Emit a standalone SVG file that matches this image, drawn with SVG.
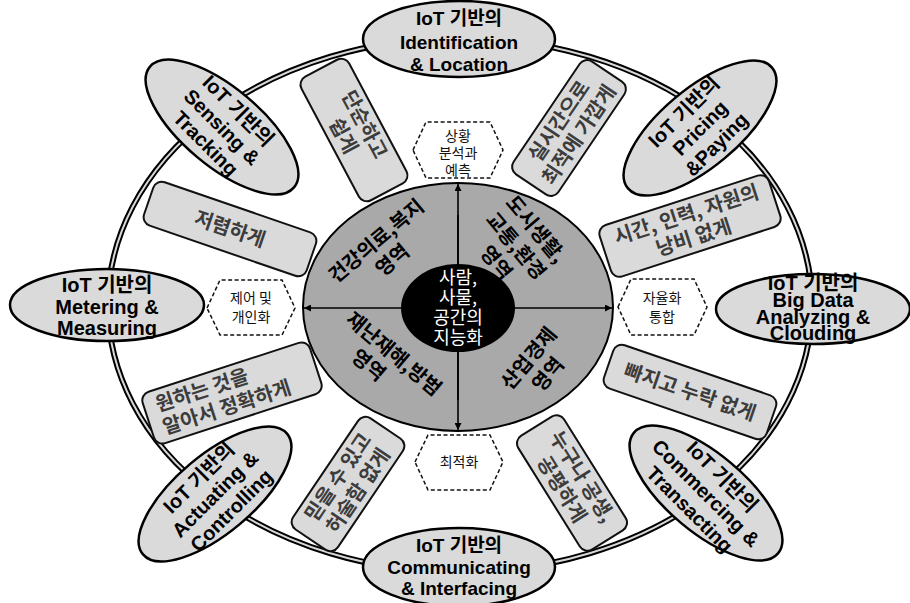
<svg xmlns="http://www.w3.org/2000/svg" width="910" height="603" viewBox="0 0 910 603">
<defs>
<style>
.ring1{fill:none;stroke:#000;stroke-width:6}
.ring2{fill:none;stroke:#d8d8d8;stroke-width:2}
.iot{fill:#dadada;stroke:#000;stroke-width:2.5}
.iott{font-family:"Liberation Sans","Noto Sans CJK KR",sans-serif;font-weight:bold;font-size:20px;fill:#000;text-anchor:middle}
.box{fill:#dadada;stroke:#111;stroke-width:2}
.boxt{font-family:"Noto Sans CJK KR",sans-serif;font-weight:bold;font-size:20px;fill:#3c3c3c;text-anchor:middle}
.hex{fill:#fff;stroke:#111;stroke-width:1.5;stroke-dasharray:4 2.5}
.hext{font-family:"Noto Sans CJK KR",sans-serif;font-size:14px;fill:#111;text-anchor:middle}
.quad{font-family:"Noto Sans CJK KR",sans-serif;font-weight:bold;font-size:20px;fill:#000;text-anchor:middle}
.ctr{font-family:"Noto Sans CJK KR",sans-serif;font-size:18px;fill:#fff;text-anchor:middle}
.ax{stroke:#000;stroke-width:1.6;fill:none}
</style>
<marker id="ah" viewBox="0 0 10 10" refX="10" refY="5" markerWidth="7" markerHeight="7" orient="auto-start-reverse" markerUnits="userSpaceOnUse">
<path d="M0,0 L10,5 L0,10 z" fill="#000"/>
</marker>
</defs>
<rect width="910" height="603" fill="#fff"/>

<g id="outer-ring">
<ellipse class="ring1" cx="460" cy="305" rx="352" ry="267"/>
<ellipse class="ring2" cx="460" cy="305" rx="352" ry="267"/>
</g>

<g id="core-area">
<ellipse cx="458" cy="307" rx="155" ry="124" fill="#a9a9a9" stroke="#000" stroke-width="2"/>
</g>

<g id="connectors">
<line class="ax" x1="458" y1="400" x2="458" y2="184" marker-end="url(#ah)"/>
<line class="ax" x1="458" y1="215" x2="458" y2="430" marker-end="url(#ah)"/>
<line class="ax" x1="458" y1="308" x2="304" y2="308" marker-end="url(#ah)"/>
<line class="ax" x1="458" y1="308" x2="612" y2="308" marker-end="url(#ah)"/>
</g>

<g id="quad-health" transform="translate(384,250) rotate(-40)">
<text class="quad" x="0" y="-5">건강의료,복지</text>
<text class="quad" x="0" y="20">영역</text>
</g>
<g id="quad-city" transform="translate(516,246) rotate(50)">
<text class="quad" x="0" y="-19">도시생활,</text>
<text class="quad" x="0" y="7">교통,환경</text>
<text class="quad" x="0" y="33">영역</text>
</g>
<g id="quad-disaster" transform="translate(386,363) rotate(40)">
<text class="quad" x="0" y="-5">재난재해,방범</text>
<text class="quad" x="-12" y="20">영역</text>
</g>
<g id="quad-industry" transform="translate(538,366) rotate(-50)">
<text class="quad" x="0" y="-5">산업경제</text>
<text class="quad" x="0" y="20">영역</text>
</g>

<g id="center">
<ellipse cx="458" cy="308" rx="57" ry="44" fill="#000"/>
<text class="ctr" x="458" y="284">사람,</text>
<text class="ctr" x="458" y="304">사물,</text>
<text class="ctr" x="458" y="324">공간의</text>
<text class="ctr" x="458" y="344">지능화</text>
</g>

<g id="hex-top">
<polygon class="hex" points="413,150 426,122 490,122 503,150 490,178 426,178"/>
<text class="hext" x="458" y="141">상황</text>
<text class="hext" x="458" y="158">분석과</text>
<text class="hext" x="458" y="175">예측</text>
</g>
<g id="hex-left">
<polygon class="hex" points="207,308 220,280 282,280 295,308 282,335 220,335"/>
<text class="hext" x="251" y="303">제어 및</text>
<text class="hext" x="251" y="322">개인화</text>
</g>
<g id="hex-right">
<polygon class="hex" points="618,307 631,279 694,279 707,307 694,335 631,335"/>
<text class="hext" x="662" y="303">자율화</text>
<text class="hext" x="662" y="322">통합</text>
</g>
<g id="hex-bottom">
<polygon class="hex" points="415,462 428,435 490,435 503,462 490,490 428,490"/>
<text class="hext" x="459" y="467">최적화</text>
</g>

<g id="box-simple" transform="translate(354,130) rotate(62)">
<rect class="box" x="-70" y="-27" width="140" height="54" rx="9"/>
<text class="boxt" x="0" y="-5">단순하고</text>
<text class="boxt" x="0" y="19">쉽게</text>
</g>
<g id="box-realtime" transform="translate(569,128) rotate(-56)">
<rect class="box" x="-68" y="-27" width="136" height="54" rx="9"/>
<text class="boxt" x="0" y="-5">실시간으로</text>
<text class="boxt" x="0" y="19">최적에 가깝게</text>
</g>
<g id="box-cheap" transform="translate(230,229) rotate(19)">
<rect class="box" x="-86" y="-23" width="172" height="46" rx="9"/>
<text class="boxt" x="0" y="7">저렴하게</text>
</g>
<g id="box-waste" transform="translate(690,226) rotate(-18)">
<rect class="box" x="-89" y="-27" width="178" height="54" rx="9"/>
<text class="boxt" x="0" y="-5">시간, 인력, 자원의</text>
<text class="boxt" x="0" y="19">낭비 없게</text>
</g>
<g id="box-accurate" transform="translate(232,393) rotate(-18)">
<rect class="box" x="-88" y="-27" width="176" height="54" rx="9"/>
<text class="boxt" x="-76" y="-5" style="text-anchor:start">원하는 것을</text>
<text class="boxt" x="-76" y="19" style="text-anchor:start">알아서 정확하게</text>
</g>
<g id="box-complete" transform="translate(690,392) rotate(19)">
<rect class="box" x="-86" y="-23" width="172" height="46" rx="9"/>
<text class="boxt" x="0" y="7">빠지고 누락 없게</text>
</g>
<g id="box-trust" transform="translate(348,484) rotate(-56)">
<rect class="box" x="-67" y="-27" width="134" height="54" rx="9"/>
<text class="boxt" x="0" y="-5">믿을 수 있고</text>
<text class="boxt" x="0" y="19">허술함 없게</text>
</g>
<g id="box-fair" transform="translate(572,483) rotate(58)">
<rect class="box" x="-67" y="-27" width="134" height="54" rx="9"/>
<text class="boxt" x="0" y="-5">누구나 공생,</text>
<text class="boxt" x="0" y="19">공평하게</text>
</g>

<g id="iot-identification" transform="translate(459,39)">
<ellipse class="iot" cx="0" cy="0" rx="96" ry="38"/>
<text class="iott" style="font-size:19px" x="0" y="-14">IoT 기반의</text>
<text class="iott" style="font-size:19px" x="0" y="10">Identification</text>
<text class="iott" style="font-size:19px" x="0" y="32">&amp; Location</text>
</g>
<g id="iot-sensing" transform="translate(222,127)">
<ellipse class="iot" cx="0" cy="0" rx="94" ry="39" transform="rotate(40)"/>
<g transform="rotate(45)">
<text class="iott" x="0" y="-16">IoT 기반의</text>
<text class="iott" x="0" y="7">Sensing &amp;</text>
<text class="iott" x="0" y="30">Tracking</text>
</g>
</g>
<g id="iot-pricing" transform="translate(700,128)">
<ellipse class="iot" cx="0" cy="0" rx="94" ry="39" transform="rotate(-40)"/>
<g transform="rotate(-45)">
<text class="iott" x="0" y="-16">IoT 기반의</text>
<text class="iott" x="0" y="7">Pricing</text>
<text class="iott" x="0" y="30">&amp;Paying</text>
</g>
</g>
<g id="iot-metering" transform="translate(107,305)">
<ellipse class="iot" cx="0" cy="0" rx="97" ry="36"/>
<text class="iott" x="0" y="-13">IoT 기반의</text>
<text class="iott" x="0" y="9">Metering &amp;</text>
<text class="iott" x="0" y="30">Measuring</text>
</g>
<g id="iot-bigdata" transform="translate(813,309)">
<ellipse class="iot" cx="0" cy="0" rx="97" ry="35"/>
<text class="iott" x="0" y="-19">IoT 기반의</text>
<text class="iott" x="0" y="-2">Big Data</text>
<text class="iott" x="0" y="15">Analyzing &amp;</text>
<text class="iott" x="0" y="31">Clouding</text>
</g>
<g id="iot-actuating" transform="translate(215,494)">
<ellipse class="iot" cx="0" cy="0" rx="94" ry="39" transform="rotate(-40)"/>
<g transform="rotate(-45)">
<text class="iott" x="0" y="-16">IoT 기반의</text>
<text class="iott" x="0" y="7">Actuating &amp;</text>
<text class="iott" x="0" y="30">Controlling</text>
</g>
</g>
<g id="iot-communicating" transform="translate(459,567)">
<ellipse class="iot" cx="0" cy="0" rx="96" ry="39"/>
<text class="iott" style="font-size:19px" x="0" y="-15">IoT 기반의</text>
<text class="iott" style="font-size:19px" x="0" y="7">Communicating</text>
<text class="iott" style="font-size:19px" x="0" y="28">&amp; Interfacing</text>
</g>
<g id="iot-commercing" transform="translate(706,493)">
<ellipse class="iot" cx="0" cy="0" rx="94" ry="39" transform="rotate(40)"/>
<g transform="rotate(45)">
<text class="iott" x="0" y="-16">IoT 기반의</text>
<text class="iott" x="0" y="7">Commercing &amp;</text>
<text class="iott" x="0" y="30">Transacting</text>
</g>
</g>
</svg>
